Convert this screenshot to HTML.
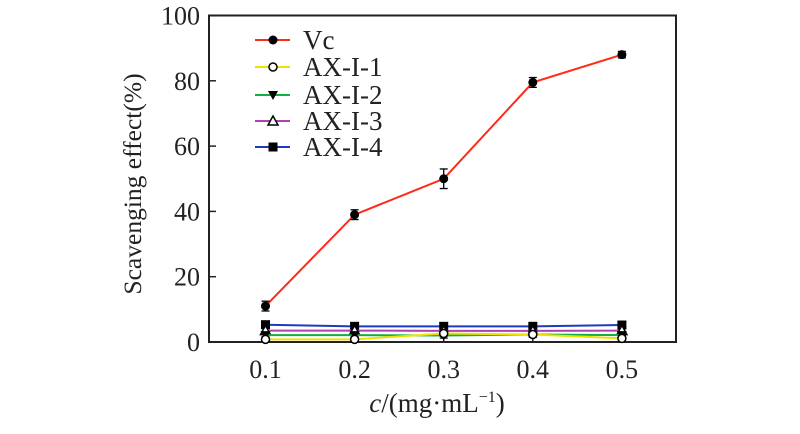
<!DOCTYPE html>
<html><head><meta charset="utf-8"><style>
body{margin:0;background:#fff;width:800px;height:434px;overflow:hidden}
svg{display:block;font-family:"Liberation Serif",serif}
</style></head><body>
<svg id="chart" width="800" height="434">
<g id="axes"></g><g id="series"></g><g id="legend"></g>
</svg>
<script>
const categories=[0.1,0.2,0.3,0.4,0.5];
const seriesNames=["Vc","AX-I-1","AX-I-2","AX-I-3","AX-I-4"];
const vcValues=[11,39,50,79.5,88];
const vcErrors=[1.5,1.5,3,1.5,1];
const ax1Values=[0.8,0.8,2.6,2.3,1.1];
const ax2Values=[2.1,2.1,2.0,2.3,2.1];
const ax3Values=[3.5,3.5,3.4,3.4,3.5];
const ax4Values=[5.3,4.8,4.8,4.8,5.2];
const smallErrors=[0.8,0.8,0.8,0.8,0.8];
const yTicks=[0,20,40,60,80,100];
const xTickLabels=["0.1","0.2","0.3","0.4","0.5"];

const L=209,R=676,T=15.5,B=342;
const xs=v=>265.5+(v-0.1)/0.1*89.1;
const ys=v=>B-(v/100)*(B-T);
const NS="http://www.w3.org/2000/svg";
function mk(tag,attrs,parent){const e=document.createElementNS(NS,tag);for(const k in attrs)e.setAttribute(k,attrs[k]);parent.appendChild(e);return e;}
const axes=document.getElementById('axes'),ser=document.getElementById('series'),leg=document.getElementById('legend');

let fr=mk('rect',{x:L,y:T,width:R-L,height:B-T,fill:'none',stroke:'#222','stroke-width':2},axes);


yTicks.forEach(v=>{
  let t=mk('line',{x1:L,x2:L+7,y1:ys(v),y2:ys(v),stroke:'#222','stroke-width':1.5},axes);
  
  
  let tx=mk('text',{x:L-9,y:ys(v)+9,'text-anchor':'end','font-size':26,fill:'#222'},axes);
  tx.textContent=v;
  
  
});
categories.forEach((c,i)=>{
  let t=mk('line',{x1:xs(c),x2:xs(c),y1:B,y2:B-6,stroke:'#222','stroke-width':1.5},axes);
  
  
  let tx=mk('text',{x:xs(c),y:378,'text-anchor':'middle','font-size':26,fill:'#222'},axes);
  tx.textContent=xTickLabels[i];
  
  
});
let yl=mk('text',{transform:'translate(141,184) rotate(-90)','text-anchor':'middle','font-size':25.5,fill:'#222'},axes);
yl.textContent='Scavenging effect(%)';


let xl=mk('text',{x:437,y:412,'text-anchor':'middle','font-size':27,fill:'#222'},axes);
xl.innerHTML='<tspan font-style="italic">c</tspan>/(mg·mL<tspan font-size="16" dy="-10">−1</tspan><tspan dy="10">)</tspan>';



function marker(type,x,y,g){
  if(type==='circle')return mk('circle',{cx:x,cy:y,r:4.5,fill:'#000'},g);
  if(type==='ocircle')return mk('circle',{cx:x,cy:y,r:4,fill:'#fff',stroke:'#000','stroke-width':1.5},g);
  if(type==='tridown')return mk('polygon',{points:`${x-5},${y-4} ${x+5},${y-4} ${x},${y+5}`,fill:'#000'},g);
  if(type==='triup')return mk('polygon',{points:`${x-5},${y+4} ${x+5},${y+4} ${x},${y-5}`,fill:'#fff',stroke:'#000','stroke-width':1.5},g);
  return mk('rect',{x:x-4.5,y:y-4.5,width:9,height:9,fill:'#000'},g);
}
const defs=[
 {name:seriesNames[0],vals:vcValues,err:vcErrors,color:'#ff2a1a',m:'circle'},
 {name:seriesNames[1],vals:ax1Values,err:smallErrors,color:'#f0e000',m:'ocircle'},
 {name:seriesNames[2],vals:ax2Values,err:smallErrors,color:'#10b040',m:'tridown'},
 {name:seriesNames[3],vals:ax3Values,err:smallErrors,color:'#b040b0',m:'triup'},
 {name:seriesNames[4],vals:ax4Values,err:smallErrors,color:'#1a3cc0',m:'square'}];
defs.slice().reverse().forEach(d=>{
  const g=mk('g',{},ser);
  
  
  const pts=categories.map((c,i)=>xs(c)+','+ys(d.vals[i])).join(' ');
  let pl=mk('polyline',{points:pts,fill:'none',stroke:d.color,'stroke-width':2},g);
  
  
  categories.forEach((c,i)=>{
    const x=xs(c),y1=ys(d.vals[i]+d.err[i]),y2=ys(d.vals[i]-d.err[i]);
    mk('line',{x1:x,x2:x,y1:y1,y2:y2,stroke:'#000','stroke-width':1.3},g);
    mk('line',{x1:x-4,x2:x+4,y1:y1,y2:y1,stroke:'#000','stroke-width':1.3},g);
    mk('line',{x1:x-4,x2:x+4,y1:y2,y2:y2,stroke:'#000','stroke-width':1.3},g);
    let m=marker(d.m,x,ys(d.vals[i]),g);
    
    
  });
});
const legY=[40,67,95,121,147];
defs.forEach((d,i)=>{
  const g=mk('g',{},leg);
  
  
  mk('line',{x1:255,x2:290,y1:legY[i],y2:legY[i],stroke:d.color,'stroke-width':2},g);
  marker(d.m,273,legY[i],g);
  let t=mk('text',{x:303,y:legY[i]+9,'font-size':27,fill:'#222'},g);
  t.textContent=d.name;
});
</script>
</body></html>
